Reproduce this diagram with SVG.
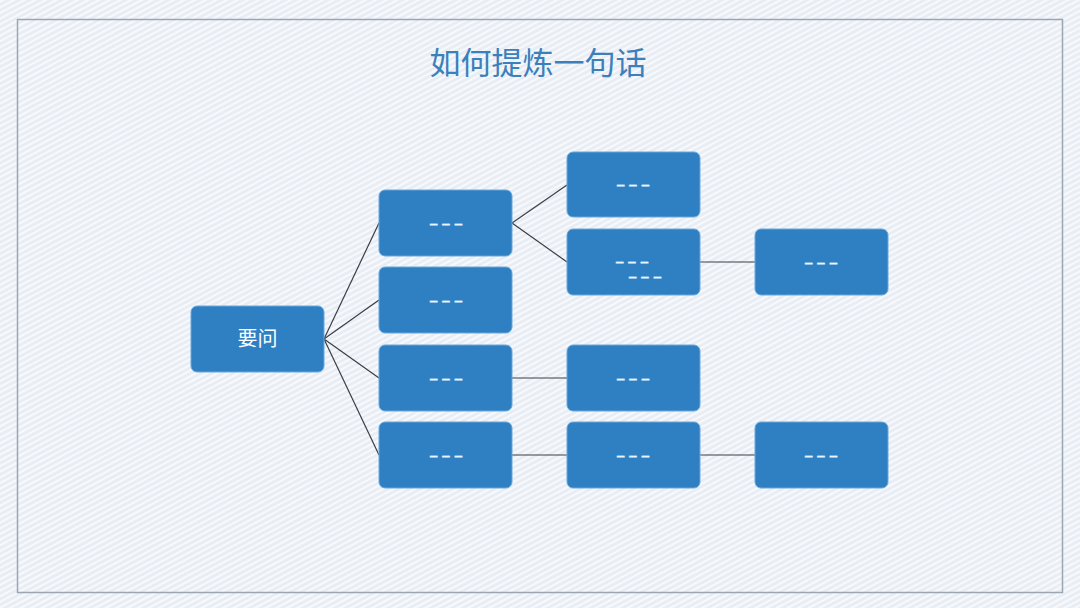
<svg xmlns="http://www.w3.org/2000/svg" width="1080" height="608" viewBox="0 0 1080 608">
<defs>
<pattern id="tex" width="5" height="5" patternUnits="userSpaceOnUse" patternTransform="rotate(-28)">
<rect width="5" height="5" fill="#ecf0f7"/>
<line x1="0" y1="1.5" x2="5" y2="1.5" stroke="#fbfcfe" stroke-width="1.5"/>
<line x1="0" y1="4" x2="5" y2="4" stroke="#e1e6ef" stroke-width="0.8"/>
</pattern>
<style>
.box{fill:#2e80c3;stroke:#6aa8dc;stroke-width:1}
.lbl{font-family:"Liberation Sans","Noto Sans CJK SC",sans-serif;font-size:15px;fill:#e8f4ff;text-anchor:middle;font-weight:bold;letter-spacing:4px;stroke:#e8f4ff;stroke-width:0.4}
.cn{font-family:"Noto Sans CJK SC",sans-serif;font-size:20px;fill:#ffffff;text-anchor:middle}
.ln{stroke:#3a3f47;stroke-width:1.2;fill:none}
</style>
</defs>
<rect width="1080" height="608" fill="url(#tex)"/>
<rect x="17.5" y="19.5" width="1045" height="573" fill="none" stroke="#9aa6b2" stroke-width="1.5"/>
<text x="538" y="74" font-family="Noto Sans CJK SC, sans-serif" font-size="31" fill="#3b80bb" text-anchor="middle">如何提炼一句话</text>
<g id="connectors">
<line class="ln" x1="324" y1="339" x2="379" y2="223"/>
<line class="ln" x1="324" y1="339" x2="379" y2="300"/>
<line class="ln" x1="324" y1="339" x2="379" y2="378"/>
<line class="ln" x1="324" y1="339" x2="379" y2="455"/>
<line class="ln" x1="512" y1="223" x2="567" y2="185"/>
<line class="ln" x1="512" y1="223" x2="567" y2="262"/>
<line class="ln" x1="700" y1="262" x2="755" y2="262"/>
<line class="ln" x1="512" y1="378" x2="567" y2="378"/>
<line class="ln" x1="512" y1="455" x2="567" y2="455"/>
<line class="ln" x1="700" y1="455" x2="755" y2="455"/>
</g>
<g id="root"><rect class="box" x="191" y="306" width="133" height="66" rx="6"/><text class="cn" x="257.5" y="346">要问</text></g>
<g id="n1"><rect class="box" x="379" y="190" width="133" height="66" rx="6"/><text class="lbl" x="448" y="229">–––</text></g>
<g id="n2"><rect class="box" x="379" y="267" width="133" height="66" rx="6"/><text class="lbl" x="448" y="306">–––</text></g>
<g id="n3"><rect class="box" x="379" y="345" width="133" height="66" rx="6"/><text class="lbl" x="448" y="384">–––</text></g>
<g id="n4"><rect class="box" x="379" y="422" width="133" height="66" rx="6"/><text class="lbl" x="448" y="461">–––</text></g>
<g id="n5"><rect class="box" x="567" y="152" width="133" height="65" rx="6"/><text class="lbl" x="635" y="190">–––</text></g>
<g id="n6"><rect class="box" x="567" y="229" width="133" height="66" rx="6"/><text class="lbl" x="634" y="267">–––</text><text class="lbl" x="647" y="282">–––</text></g>
<g id="n7"><rect class="box" x="567" y="345" width="133" height="66" rx="6"/><text class="lbl" x="635" y="384">–––</text></g>
<g id="n8"><rect class="box" x="567" y="422" width="133" height="66" rx="6"/><text class="lbl" x="635" y="461">–––</text></g>
<g id="n9"><rect class="box" x="755" y="229" width="133" height="66" rx="6"/><text class="lbl" x="823" y="268">–––</text></g>
<g id="n10"><rect class="box" x="755" y="422" width="133" height="66" rx="6"/><text class="lbl" x="823" y="461">–––</text></g>
</svg>
